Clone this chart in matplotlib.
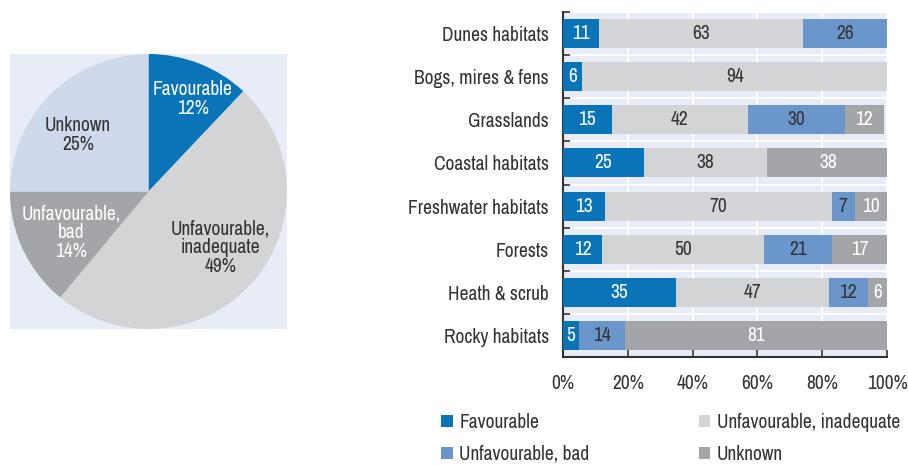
import matplotlib
matplotlib.use("Agg")
import matplotlib.pyplot as plt
import numpy as np
from matplotlib.patches import Patch

plt.rcParams['font.family'] = ['Archivo Narrow', 'Liberation Sans', 'DejaVu Sans']

# Overall conservation status shares (pie)
pie_labels = ["Favourable", "Unfavourable,\ninadequate", "Unfavourable,\nbad", "Unknown"]
pie_values = [12, 49, 14, 25]

# Status by habitat group (stacked bars, %)
habitats = ["Dunes habitats", "Bogs, mires & fens", "Grasslands", "Coastal habitats",
            "Freshwater habitats", "Forests", "Heath & scrub", "Rocky habitats"]
favourable = [11, 6, 15, 25, 13, 12, 35, 5]
unfav_inadequate = [63, 94, 42, 38, 70, 50, 47, 0]
unfav_bad = [26, 0, 30, 0, 7, 21, 12, 14]
unknown = [0, 0, 12, 38, 10, 17, 6, 81]
series_names = ["Favourable", "Unfavourable, inadequate", "Unfavourable, bad", "Unknown"]
x_ticks = [0, 20, 40, 60, 80, 100]
x_tick_labels = ["0%", "20%", "40%", "60%", "80%", "100%"]

C_FAV = "#0a74b8"
C_INAD = "#d3d4d6"
C_BAD = "#6b96cc"
C_UNK = "#a4a5a9"
C_PIE_UNK = "#cfd9ec"
BG = "#e8ecf6"
TXT = "#333333"
FS = 14

fig = plt.figure(figsize=(9.08, 4.65), dpi=100)

# ---- Pie ----
axp = fig.add_axes([10 / 908, 1 - 329 / 465, 277 / 908, 275 / 465])
pie_colors = [C_FAV, C_INAD, C_UNK, C_PIE_UNK]
wedges, _ = axp.pie(pie_values, colors=pie_colors, startangle=90, counterclock=False,
                    radius=1.0, wedgeprops=dict(linewidth=0))
axp.set_frame_on(True)
for s in axp.spines.values():
    s.set_visible(False)
axp.set_facecolor(BG)
axp.set_xlim(-1.0, 1.0)
axp.set_ylim(-1.0, 1.0)
axp.set_aspect("auto")

label_pos = [(0.32, 0.67), (0.52, -0.41), (-0.56, -0.30), (-0.51, 0.41)]
label_col = ["white", TXT, "white", TXT]
for lab, v, (lx, ly), c in zip(pie_labels, pie_values, label_pos, label_col):
    axp.text(lx, ly, f"{lab}\n{v}%", ha="center", va="center", color=c,
             fontsize=FS, linespacing=1.0)

# ---- Stacked bars ----
ax = fig.add_axes([563 / 908, 1 - 357 / 465, 324 / 908, 345 / 465])
ax.set_facecolor(BG)
y = np.arange(len(habitats))
left = np.zeros(len(habitats))
series = [favourable, unfav_inadequate, unfav_bad, unknown]
colors = [C_FAV, C_INAD, C_BAD, C_UNK]
text_cols = ["white", TXT, TXT, "white"]
for vals, col, tc, name in zip(series, colors, text_cols, series_names):
    vals = np.array(vals, dtype=float)
    bars = ax.barh(y, vals, left=left, height=0.67, color=col, linewidth=0, label=name, zorder=3)
    for b, v in zip(bars, vals):
        if v > 0:
            ax.text(b.get_x() + b.get_width() / 2, b.get_y() + b.get_height() / 2, f"{int(v)}",
                    ha="center", va="center", color=tc, fontsize=FS, zorder=4)
    left += vals

ax.set_xlim(0, 100)
ax.set_ylim(len(habitats) - 0.5, -0.5)
ax.set_yticks(y)
ax.set_yticklabels(habitats, fontsize=FS, color=TXT)
ax.set_yticks(np.arange(-0.5, len(habitats), 1.0), minor=True)
ax.set_xticks(x_ticks)
ax.set_xticklabels(x_tick_labels, fontsize=FS, color=TXT)
ax.tick_params(axis="y", which="major", length=0, pad=10)
ax.tick_params(axis="y", which="minor", direction="in", length=5, width=1.2, color=TXT)
ax.tick_params(axis="x", which="major", direction="in", length=5, width=1.2, color=TXT, pad=12)
ax.grid(axis="x", which="major", color="white", linewidth=1.5, zorder=1)
ax.grid(axis="y", which="minor", color="white", linewidth=1.5, zorder=1)
ax.set_axisbelow(True)
for s in ["top", "right"]:
    ax.spines[s].set_visible(False)
for s in ["left", "bottom"]:
    ax.spines[s].set_color(TXT)
    ax.spines[s].set_linewidth(1.5)

# Legend: two columns, filled column by column
handles = [Patch(facecolor=c, edgecolor="none") for c in colors]
order = [0, 2, 1, 3]
fig.legend([handles[i] for i in order], [series_names[i] for i in order],
           loc="upper left", bbox_to_anchor=(441 / 908, 1 - 413 / 465), ncol=2,
           frameon=False, fontsize=FS, handlelength=0.6, handleheight=0.6,
           handletextpad=0.35, columnspacing=5.6, labelspacing=0.65,
           borderpad=0, borderaxespad=0, labelcolor=TXT)

fig.savefig("out.png", dpi=100, facecolor="white")
